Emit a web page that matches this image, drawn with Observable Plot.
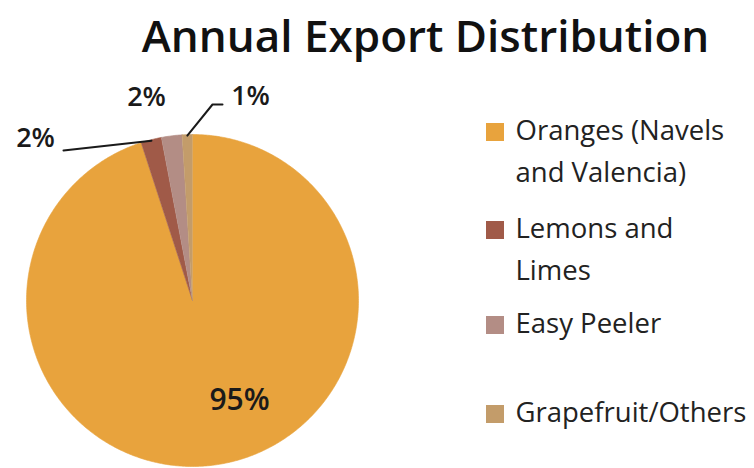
<!DOCTYPE html>
<html>
<head>
<meta charset="utf-8">
<script src="https://cdn.jsdelivr.net/npm/d3@7"></script>
<script src="https://cdn.jsdelivr.net/npm/@observablehq/plot@0.6"></script>
<style>
  html, body { margin: 0; padding: 0; background: #fff; }
  #chart svg { display: block; }
</style>
</head>
<body>
<div id="chart"></div>
<script>
// ---- data ----
const title = "Annual Export Distribution";
const categories = ["Oranges (Navels and Valencia)", "Lemons and Limes", "Easy Peeler", "Grapefruit/Others"];
const shares = [95, 2, 2, 1];
const shareLabels = ["95%", "2%", "2%", "1%"];
const legendLines = [["Oranges (Navels", "and Valencia)"], ["Lemons and", "Limes"], ["Easy Peeler"], ["Grapefruit/Others"]];
const colors = ["#E8A33D", "#A05A48", "#B38D85", "#C39C6A"];

// ---- layout (not data) ----
const W = 754, H = 468;
const cx = 192, cy = 300, R = 166;
const labelPos = [[239, 400], [35, 138], [146, 97], [250, 96]];
const leaderStart = [null, [[63, 150]], null, [[222, 104], [212, 104]]];
const legendX = 515, legendSq = 18, legendSqX = 486;
const legendY = [131, 229, 324, 413];
const lineGap = 42;

// ---- build pie geometry from shares ----
const arcs = d3.pie().sort(null).startAngle(0)(shares);
const pt = (a, r) => [cx + r * Math.sin(a), cy - r * Math.cos(a)];
const pieData = [];
arcs.forEach((arc, i) => {
  const name = categories[i];
  pieData.push({name, x: cx, y: cy});
  const n = Math.max(2, Math.ceil((arc.endAngle - arc.startAngle) / 0.01));
  for (let k = 0; k <= n; k++) {
    const a = arc.startAngle + (arc.endAngle - arc.startAngle) * k / n;
    const [x, y] = pt(a, R);
    pieData.push({name, x, y});
  }
});

const labelData = arcs.map((arc, i) => ({name: categories[i], label: shareLabels[i], x: labelPos[i][0], y: labelPos[i][1], big: i === 0}));

const leaderData = [];
arcs.forEach((arc, i) => {
  if (!leaderStart[i]) return;
  leaderStart[i].forEach(([x, y]) => leaderData.push({g: i, x, y}));
  const mid = (arc.startAngle + arc.endAngle) / 2;
  const [x, y] = pt(mid, R - 1);
  leaderData.push({g: i, x, y});
});

const legendText = [];
legendLines.forEach((lines, i) => lines.forEach((t, j) => legendText.push({text: t, x: legendX, y: legendY[i] + j * lineGap})));
const legendBoxes = categories.map((name, i) => ({name, x1: legendSqX, x2: legendSqX + legendSq, y1: legendY[i] - legendSq / 2 + 1, y2: legendY[i] + legendSq / 2 + 1}));

const font = "'Open Sans', 'DejaVu Sans', sans-serif";

const chart = Plot.plot({
  width: W,
  height: H,
  margin: 0,
  x: {domain: [0, W], range: [0, W], axis: null},
  y: {domain: [0, H], range: [0, H], axis: null},
  color: {domain: categories, range: colors},
  style: {fontFamily: font, background: "#fff"},
  marks: [
    Plot.line(pieData, {x: "x", y: "y", z: "name", fill: "name", stroke: "name", strokeWidth: 0.6, curve: "linear"}),
    Plot.line(leaderData, {x: "x", y: "y", z: "g", stroke: "#1a1a1a", strokeWidth: 2}),
    Plot.text(labelData, {x: "x", y: "y", text: "label", fontSize: d => d.big ? 30 : 27, fill: "#1a1a1a", fontWeight: 600, textAnchor: "middle"}),
    Plot.text([title], {x: () => 425, y: () => 37, text: d => d, fontSize: 44, fontWeight: 600, fill: "#111", textAnchor: "middle"}),
    Plot.rect(legendBoxes, {x1: "x1", x2: "x2", y1: "y1", y2: "y2", fill: "name"}),
    Plot.text(legendText, {x: "x", y: "y", text: "text", fontSize: 27.5, fontWeight: 400, fill: "#222", textAnchor: "start"})
  ]
});
document.getElementById("chart").append(chart);
</script>
</body>
</html>
